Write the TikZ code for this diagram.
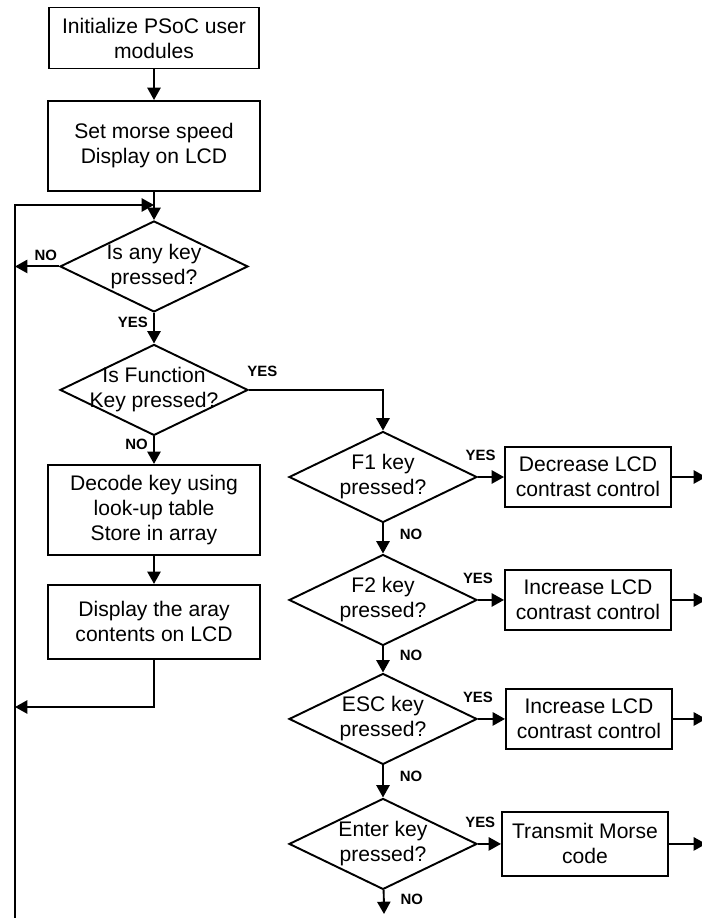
\documentclass[tikz,border=0pt]{standalone}
\usepackage{fontspec}
\setmainfont{Liberation Sans}
\usetikzlibrary{shapes.geometric,arrows.meta}

\begin{document}
\begin{tikzpicture}
  [->, >={Triangle[length=7pt,width=7.5pt]}, x=0.02cm, y=-0.02cm,
    line width=1.1pt, align=center,
    font=\fontsize{12}{14.2}\selectfont,
    process/.style={%
      rectangle, draw, minimum width=4.24cm, minimum height=1.8cm
    },
    smallproc/.style={%
      rectangle, draw, minimum width=3.32cm, minimum height=1.2cm
    },
    decision/.style={%
      diamond, draw, minimum width=3.76cm, minimum height=1.82cm, inner sep=0pt
    },
    answer/.style={%
      font=\fontsize{8.5}{10}\selectfont\bfseries, inner sep=3pt
    },
  ]

  \useasboundingbox (0,0) rectangle (701,918);

  \node[process, minimum width=4.2cm, minimum height=1.22cm] (init) at (154,38) {Initialize PSoC user\\modules};
  \node[process] (speed) [below of=init, node distance=2.16cm] {Set morse speed\\Display on LCD};
  \node[decision, label={center:Is any key\\pressed?}] (anykey) [below of=speed, node distance=2.41cm] {};
  \node[decision, label={center:Is Function\\Key pressed?}] (funckey) [below of=anykey, node distance=2.47cm] {};
  \node[process] (decode) [below of=funckey, node distance=2.4cm] {Decode key using\\look-up table\\Store in array};
  \node[process, minimum height=1.48cm] (show) [below of=decode, node distance=2.24cm] {Display the aray\\contents on LCD};

  \node[decision, label={center:F1 key\\pressed?}] (fone) at (383,477) {};
  \node[decision, label={center:F2 key\\pressed?}] (ftwo) [below of=fone, node distance=2.46cm] {};
  \node[decision, label={center:ESC key\\pressed?}] (esc) [below of=ftwo, node distance=2.38cm] {};
  \node[decision, label={center:Enter key\\pressed?}] (enter) [below of=esc, node distance=2.5cm] {};

  \node[smallproc] (fonebox) [right of=fone, node distance=4.1cm] {Decrease LCD\\contrast control};
  \node[smallproc] (ftwobox) [right of=ftwo, node distance=4.1cm] {Increase LCD\\contrast control};
  \node[smallproc] (escbox) [right of=esc, node distance=4.12cm] {Increase LCD\\contrast control};
  \node[smallproc, minimum height=1.28cm] (enterbox) [right of=enter, node distance=4.04cm] {Transmit Morse\\code};

  \coordinate (looptop) at (15,205);
  \coordinate (loopend) at (15,918);
  \coordinate (loopin) at (15,707);
  \coordinate (exit) at (706,0);
  \coordinate (stop) at (384,914);

  \draw (init) -- (speed);
  \draw (speed) -- (anykey);
  \draw (loopend) -- (looptop) -- (looptop -| anykey);
  \draw (anykey.west) -- (anykey.west -| looptop) node[answer, pos=0.3, above] {NO};
  \draw (anykey) -- (funckey) node[answer, pos=0.3, left] {YES};
  \draw (funckey.east) -| (fone) node[answer, pos=0.05, above=4pt] {YES};
  \draw (funckey) -- (decode) node[answer, pos=0.3, left] {NO};
  \draw (decode) -- (show);
  \draw (show) |- (loopin);

  \path (fone) edge node[answer, pos=0.1, above=6pt] {YES} (fonebox)
               edge node[answer, pos=0.35, right=6pt] {NO} (ftwo);
  \path (ftwo) edge node[answer, pos=0.0, above=6pt] {YES} (ftwobox)
               edge node[answer, pos=0.35, right=6pt] {NO} (esc);
  \path (esc) edge node[answer, pos=0.0, above=6pt] {YES} (escbox)
              edge node[answer, pos=0.35, right=6pt] {NO} (enter);
  \path (enter) edge node[answer, pos=0.1, above=6pt] {YES} (enterbox);
  \draw (enter) -- (stop) node[answer, pos=0.4, right=6pt] {NO};

  \draw (fonebox) -- (fonebox -| exit);
  \draw (ftwobox) -- (ftwobox -| exit);
  \draw (escbox) -- (escbox -| exit);
  \draw (enterbox) -- (enterbox -| exit);

\end{tikzpicture}
\end{document}
